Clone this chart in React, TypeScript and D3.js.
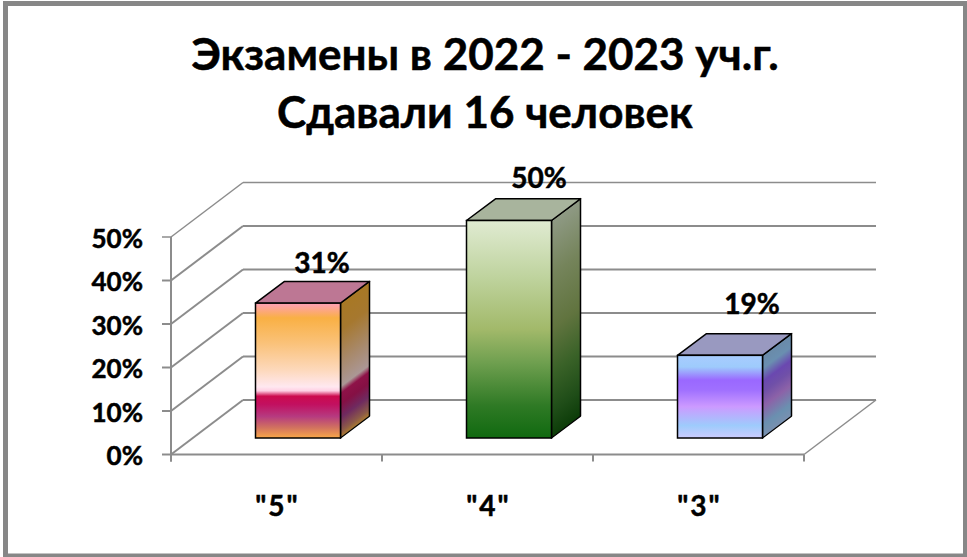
import React from 'react';
import * as d3 from 'd3';

const titleLines = ['Экзамены в 2022 - 2023 уч.г.', 'Сдавали 16 человек'];
const categories = ['"5"', '"4"', '"3"'];
const values = [0.31, 0.5, 0.19];
const yTicks = [0, 0.1, 0.2, 0.3, 0.4, 0.5];

type Stop = [number, string];
const frontStops: Stop[][] = [
  [[0, '#ff9fb8'], [0.04, '#fda58f'], [0.11, '#f9b044'], [0.3, '#fac27a'], [0.5, '#fdd9bd'], [0.62, '#ffe8f0'], [0.65, '#ffd0e4'], [0.69, '#cc0a4e'], [0.75, '#c21060'], [0.84, '#b63a80'], [0.92, '#d07060'], [1, '#f8a848']],
  [[0, '#e0ebd2'], [0.25, '#c0d4a0'], [0.5, '#a2b96a'], [0.65, '#70a050'], [0.85, '#2f7a25'], [1, '#106a10']],
  [[0, '#a8ccff'], [0.14, '#9ecbfc'], [0.3, '#9a68ff'], [0.42, '#a070ff'], [0.62, '#cc9aff'], [0.85, '#9ecbfc'], [1, '#ccccff']],
];
const sideStops: Stop[][] = [
  [[0, '#a87824'], [0.2, '#a6782f'], [0.45, '#a88a6e'], [0.62, '#ab9795'], [0.67, '#8e1248'], [0.75, '#851044'], [0.85, '#6f2a60'], [0.95, '#8c5a48'], [1, '#ac7c30']],
  [[0, '#8f9a85'], [0.25, '#75845b'], [0.5, '#61743f'], [0.7, '#3a6228'], [0.88, '#1f4d18'], [1, '#0c3c08']],
  [[0, '#6a8aa8'], [0.16, '#6a8fb0'], [0.32, '#6a48b0'], [0.45, '#7050a8'], [0.62, '#8c62a8'], [0.85, '#6a90b0'], [1, '#7a90b0']],
];
const topColors = ['#bd7794', '#a8b49d', '#9999c0'];

export default function App() {
  const W = 967, H = 557;
  const x = d3.scaleBand<string>().domain(categories).range([171, 804]);
  const y = d3.scaleLinear().domain([0, 0.5]).range([454.5, 237]);
  const wall = { dx: 72, dy: -54.5 };
  const barInset = { dx: 21.5, dy: -16.5 };
  const depth = { dx: 29, dy: -21.7 };
  const barW = 85;
  const grid = '#8c8c8c';
  const font = 'Lato, "Noto Sans", sans-serif';
  const nudges = [{ x: 24, y: -30 }, { x: 30, y: -32.5 }, { x: 32, y: -41 }];
  const x0 = 171, x1 = 804;
  const pct = d3.format('.0%');
  const heavy = { fill: '#000', stroke: '#000', strokeWidth: 0.5, fontWeight: 700 };

  return (
    <svg width={W} height={H} style={{ position: 'absolute', left: 0, top: 0, display: 'block' }} fontFamily={font}>
      <defs>
        {categories.map((_, i) => (
          <React.Fragment key={i}>
            <linearGradient id={`front${i}`} x1="0" y1="0" x2="0" y2="1">
              {frontStops[i].map(([o, c], k) => <stop key={k} offset={o} stopColor={c} />)}
            </linearGradient>
            <linearGradient id={`side${i}`} x1="0" y1="0" x2="0" y2="1">
              {sideStops[i].map(([o, c], k) => <stop key={k} offset={o} stopColor={c} />)}
            </linearGradient>
          </React.Fragment>
        ))}
      </defs>
      <rect x={0} y={0} width={W} height={H} fill="#fff" />
      <rect x={5.5} y={3.5} width={960} height={552.5} fill="#fff" stroke="#878787" strokeWidth={5} />

      <text x={485} y={70} textAnchor="middle" fontSize={44} {...heavy}>{titleLines[0]}</text>
      <text x={485} y={128} textAnchor="middle" fontSize={44} {...heavy}>{titleLines[1]}</text>

      {yTicks.map((t, i) => (
        <g key={i} stroke={grid} strokeWidth={i === 5 ? 1.5 : 2} fill="none">
          <line x1={x0 + wall.dx} x2={x1 + wall.dx} y1={y(t) + wall.dy} y2={y(t) + wall.dy} />
          <line x1={x0} x2={x0 + wall.dx} y1={y(t)} y2={y(t) + wall.dy} />
          <line x1={162} x2={x0} y1={y(t)} y2={y(t)} />
        </g>
      ))}
      <line x1={x0} x2={x0} y1={y(0.5)} y2={y(0) + 7} stroke={grid} strokeWidth={2} />
      <line x1={x0} x2={x1} y1={y(0)} y2={y(0)} stroke={grid} strokeWidth={2} />
      <line x1={x1} x2={x1 + wall.dx} y1={y(0)} y2={y(0) + wall.dy} stroke={grid} strokeWidth={1.5} />
      {[0, 1, 2, 3].map(i => {
        const px = x0 + i * x.bandwidth();
        return <line key={i} x1={px} x2={px} y1={y(0)} y2={y(0) + 7} stroke={grid} strokeWidth={2} />;
      })}

      {yTicks.map((t, i) => (
        <text key={i} x={143} y={y(t) + 10.5} textAnchor="end" fontSize={26} {...heavy}>{pct(t)}</text>
      ))}

      {categories.map((c, i) => {
        const left = x(c)! + (x.bandwidth() - barW) / 2 + barInset.dx;
        const right = left + barW;
        const bottom = y(0) + barInset.dy;
        const top = y(values[i]) + barInset.dy;
        const h = bottom - top;
        const topPath = `M${left},${top}L${right},${top}L${right + depth.dx},${top + depth.dy}L${left + depth.dx},${top + depth.dy}Z`;
        return (
          <g key={c}>
            <rect
              x={0} y={0} width={depth.dx} height={h}
              fill={`url(#side${i})`} stroke="#000" strokeWidth={1.5} strokeLinejoin="round"
              transform={`matrix(1,${depth.dy / depth.dx},0,1,${right},${top})`}
            />
            <path d={topPath} fill={topColors[i]} stroke="#000" strokeWidth={1.5} strokeLinejoin="round" />
            <rect x={left} y={top} width={barW} height={h} fill={`url(#front${i})`} stroke="#000" strokeWidth={1.5} />
            <text x={left + barW / 2 + nudges[i].x} y={top + nudges[i].y} textAnchor="middle" fontSize={28} {...heavy}>{pct(values[i])}</text>
          </g>
        );
      })}

      {categories.map(c => (
        <text key={c} x={x(c)! + x.bandwidth() / 2 + 1} y={516} textAnchor="middle" fontSize={28} letterSpacing={2} {...heavy}>{c}</text>
      ))}
    </svg>
  );
}
